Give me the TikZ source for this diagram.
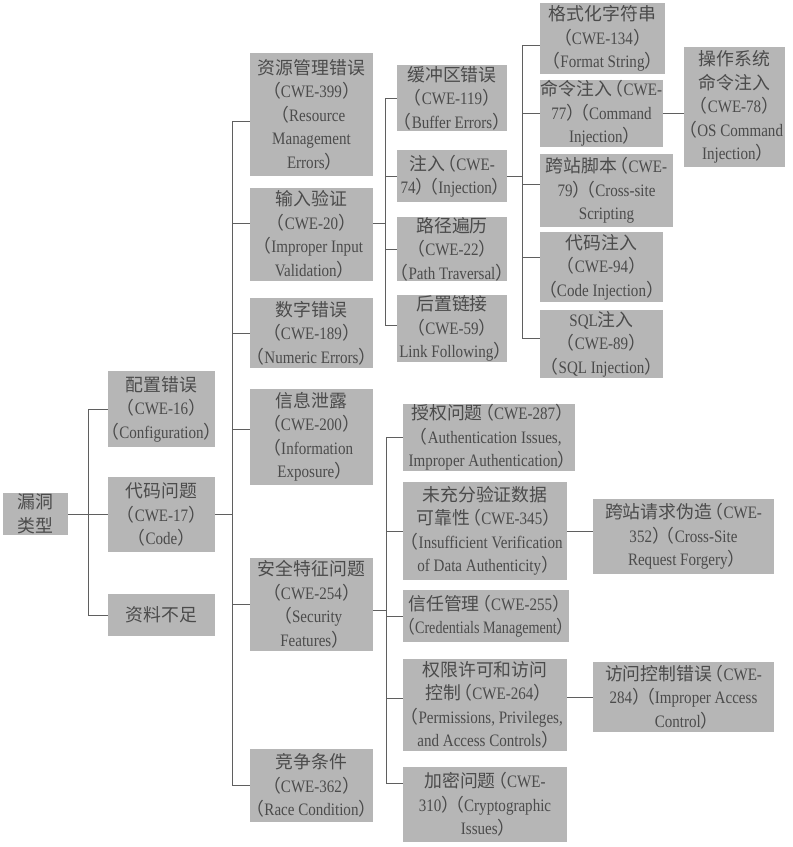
\documentclass[tikz,border=0pt]{standalone}
\usepackage{graphicx}
\usepackage{fontspec}
\setmainfont{Liberation Serif}[FakeStretch=0.86]
\newfontfamily\cjk{Noto Sans CJK SC}[Scale=1.02]
\newcommand\C[1]{{\cjk #1}}
\newcommand\lp{\hbox to 0.65em{\hss\cjk （}}
\newcommand\rp{\hbox to 0.65em{\cjk ）\hss}}
\definecolor{boxgray}{RGB}{182,182,182}
\definecolor{txtgray}{RGB}{75,75,75}
\definecolor{linegray}{RGB}{95,95,95}
\tikzset{
  box/.style={fill=boxgray, text=txtgray, inner sep=0pt, align=center,
    font=\fontsize{17.5}{23.5}\selectfont},
  link/.style={draw=linegray, line width=0.8pt}
}
\hbadness=10000 \hfuzz=100pt
\newcommand\bx[6]{\node[box,minimum width={#4-#2},minimum height={#5-#3}] (#1) at ({(#2+#4)/2},{(#3+#5)/2}) {#6};}
\begin{document}
\begin{tikzpicture}[x=1pt,y=-1pt]
\useasboundingbox[fill=white] (0,0) rectangle (793,847);
% level 0
\bx{root}{3}{493}{68}{535}{\C{漏洞}\\\C{类型}}
% level 1
\bx{cfg}{108}{371}{215}{447}{\C{配置错误}\\\lp CWE-16\rp\\\lp Configuration\rp}
\bx{code}{108}{477}{215}{552}{\C{代码问题}\\\lp CWE-17\rp\\\lp Code\rp}
\bx{insuf}{108}{594}{215}{636}{\C{资料不足}}
% level 2
\bx{res}{250}{53}{373}{176}{\C{资源管理错误}\\\lp CWE-399\rp\\\lp Resource\\Management\\Errors\rp}
\bx{inp}{250}{188}{373}{281}{\C{输入验证}\\\lp CWE-20\rp\\\lp Improper Input\\Validation\rp}
\bx{num}{250}{298}{373}{368}{\C{数字错误}\\\lp CWE-189\rp\\\lp Numeric Errors\rp}
\bx{info}{250}{389}{373}{485}{\C{信息泄露}\\\lp CWE-200\rp\\\lp Information\\Exposure\rp}
\bx{sec}{250}{558}{373}{651}{\C{安全特征问题}\\\lp CWE-254\rp\\\lp Security\\Features\rp}
\bx{race}{250}{749}{373}{822}{\C{竞争条件}\\\lp CWE-362\rp\\\lp Race Condition\rp}
% level 3 (input validation)
\bx{buf}{397}{65}{507}{131}{\C{缓冲区错误}\\\lp CWE-119\rp\\\lp Buffer Errors\rp}
\bx{inj}{397}{150}{507}{202}{\C{注入}\lp CWE-\\74\rp\lp Injection\rp}
\bx{path}{397}{218}{507}{280}{\C{路径遍历}\\\lp CWE-22\rp\\\lp Path Traversal\rp}
\bx{lnk}{397}{295}{507}{362}{\C{后置链接}\\\lp CWE-59\rp\\Link Following\rp}
% level 4 (injection)
\bx{fmt}{540}{3}{665}{74}{\C{格式化字符串}\\\lp CWE-134\rp\\\lp Format String\rp}
\bx{cmd}{540}{80}{663}{147}{\C{命令注入}\lp CWE-\\77\rp\lp Command\\Injection\rp}
\bx{xss}{540}{154}{673}{227}{\C{跨站脚本}\lp CWE-\\79\rp\lp Cross-site\\Scripting}
\bx{codeinj}{540}{232}{663}{302}{\C{代码注入}\\\lp CWE-94\rp\\\lp Code Injection\rp}
\bx{sql}{540}{310}{663}{378}{SQL\C{注入}\\\lp CWE-89\rp\\\lp SQL Injection\rp}
\bx{os}{684}{47}{785}{167}{\C{操作系统}\\\C{命令注入}\\\lp CWE-78\rp\\\lp OS Command\\Injection\rp}
% level 3 (security features)
\bx{auth}{403}{404}{575}{471}{\C{授权问题}\lp CWE-287\rp\\\lp Authentication Issues,\\Improper Authentication\rp}
\bx{data}{403}{482}{567}{580}{\C{未充分验证数据}\\\C{可靠性}\lp CWE-345\rp\\\lp Insufficient Verification\\of Data Authenticity\rp}
\bx{cred}{403}{590}{569}{642}{\C{信任管理}\lp CWE-255\rp\\\scalebox{0.94}[1]{\lp Credentials Management\rp}}
\bx{perm}{403}{659}{567}{751}{\C{权限许可和访问}\\\C{控制}\lp CWE-264\rp\\\lp Permissions, Privileges,\\and Access Controls\rp}
\bx{crypt}{403}{767}{567}{842}{\C{加密问题}\lp CWE-\\310\rp\lp Cryptographic\\Issues\rp}
\bx{csrf}{593}{499}{774}{574}{\C{跨站请求伪造}\lp CWE-\\352\rp\lp Cross-Site\\Request Forgery\rp}
\bx{acc}{593}{662}{774}{732}{\C{访问控制错误}\lp CWE-\\284\rp\lp Improper Access\\Control\rp}
% vertical trunk positions
\coordinate (v0) at (88,0);
\coordinate (v1) at (232,0);
\coordinate (v2) at (385,0);
\coordinate (v3) at (522,0);
\coordinate (v4) at (386,0);
% root -> level 1
\draw[link] (root.east) -- (root.east -| v0);
\draw[link] (cfg.west) -- (cfg.west -| v0) |- (insuf.west);
\draw[link] (code.west) -- (code.west -| v0);
% code -> level 2
\draw[link] (code.east) -- (code.east -| v1);
\draw[link] ([yshift=-7pt]res.west) -- ([yshift=-7pt]res.west -| v1) |- (race.west);
\draw[link] ([yshift=11pt]inp.west) -- ([yshift=11pt]inp.west -| v1);
\draw[link] (num.west) -- (num.west -| v1);
\draw[link] ([yshift=8pt]info.west) -- ([yshift=8pt]info.west -| v1);
\draw[link] (sec.west) -- (sec.west -| v1);
% input validation -> level 3
\draw[link] ([yshift=11pt]inp.east) -- ([yshift=11pt]inp.east -| v2);
\draw[link] (buf.west) -- (buf.west -| v2) |- ([yshift=3pt]lnk.west);
\draw[link] (inj.west) -- (inj.west -| v2);
\draw[link] (path.west) -- (path.west -| v2);
% injection -> level 4
\draw[link] (inj.east) -- (inj.east -| v3);
\draw[link] ([yshift=-7pt]fmt.west) -- ([yshift=-7pt]fmt.west -| v3) |- ([yshift=6pt]sql.west);
\draw[link] (cmd.west) -- (cmd.west -| v3);
\draw[link] ([yshift=6pt]xss.west) -- ([yshift=6pt]xss.west -| v3);
\draw[link] ([yshift=10pt]codeinj.west) -- ([yshift=10pt]codeinj.west -| v3);
\draw[link] (cmd.east) -- (cmd.east -| os.west);
% security features -> level 3
\draw[link] ([yshift=-6pt]sec.east) -- ([yshift=-6pt]sec.east -| v4);
\draw[link] (auth.west) -- (auth.west -| v4) |- ([yshift=21pt]crypt.west);
\draw[link] (data.west) -- (data.west -| v4);
\draw[link] (cred.west) -- (cred.west -| v4);
\draw[link] ([yshift=7pt]perm.west) -- ([yshift=7pt]perm.west -| v4);
\draw[link] (data.east) -- (data.east -| csrf.west);
\draw[link] (perm.east |- acc.west) -- (acc.west);
\end{tikzpicture}
\end{document}
